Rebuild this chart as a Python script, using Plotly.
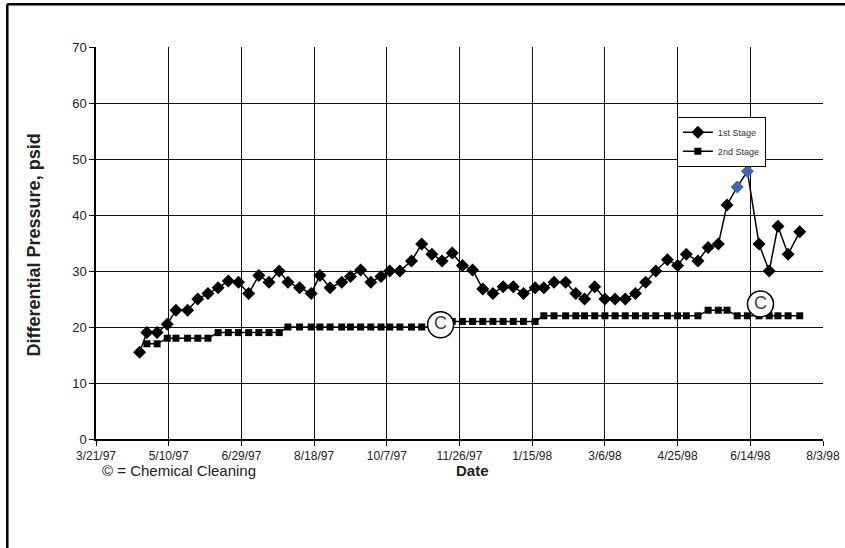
import plotly.graph_objects as go

# ---- data ----
dates = [
    "1997-04-20", "1997-04-25", "1997-05-02", "1997-05-09", "1997-05-15", "1997-05-23",
    "1997-05-30", "1997-06-06", "1997-06-13", "1997-06-20", "1997-06-27", "1997-07-04",
    "1997-07-11", "1997-07-18", "1997-07-25", "1997-07-31", "1997-08-08", "1997-08-16",
    "1997-08-22", "1997-08-29", "1997-09-06", "1997-09-12", "1997-09-19", "1997-09-26",
    "1997-10-03", "1997-10-09", "1997-10-16", "1997-10-24", "1997-10-31", "1997-11-07",
    "1997-11-14", "1997-11-21", "1997-11-28", "1997-12-05", "1997-12-12", "1997-12-19",
    "1997-12-26", "1998-01-02", "1998-01-09", "1998-01-17", "1998-01-23", "1998-01-30",
    "1998-02-07", "1998-02-14", "1998-02-20", "1998-02-27", "1998-03-06", "1998-03-13",
    "1998-03-20", "1998-03-27", "1998-04-03", "1998-04-10", "1998-04-18", "1998-04-25",
    "1998-05-01", "1998-05-09", "1998-05-16", "1998-05-23", "1998-05-29", "1998-06-05",
    "1998-06-12", "1998-06-20", "1998-06-27", "1998-07-03", "1998-07-10", "1998-07-18",
]
stage1 = [
    15.5, 19, 19, 20.5, 23, 23,
    25, 26, 27, 28.2, 28, 26,
    29.2, 28, 30, 28, 27, 26,
    29.2, 27, 28, 29, 30.2, 28,
    29, 30, 30, 31.8, 34.8, 33,
    31.8, 33.2, 31, 30.2, 26.8, 26,
    27.2, 27.2, 26, 27, 27, 28,
    28, 26, 25, 27.2, 25, 25,
    25, 26, 28, 30, 32, 31,
    33, 31.8, 34.2, 34.8, 41.8, 45,
    47.8, 34.8, 30, 38, 33, 37,
]
dates2 = dates[1:]
stage2 = [
    17, 17, 18, 18, 18, 18,
    18, 19, 19, 19, 19, 19,
    19, 19, 20, 20, 20, 20,
    20, 20, 20, 20, 20, 20,
    20, 20, 20, 20, 20, 20,
    21, 21, 21, 21, 21, 21,
    21, 21, 21, 22, 22, 22,
    22, 22, 22, 22, 22, 22,
    22, 22, 22, 22, 22, 22,
    22, 23, 23, 23, 22, 22,
    22, 22, 22, 22, 22,
]
highlight_dates = ["1998-06-05", "1998-06-12"]

cleaning_dates = ["1997-11-13", "1998-06-21"]
cleaning_y = [20.4, 24.1]

tick_dates = ["1997-03-21", "1997-05-10", "1997-06-29", "1997-08-18", "1997-10-07",
              "1997-11-26", "1998-01-15", "1998-03-06", "1998-04-25", "1998-06-14", "1998-08-03"]
tick_text = ["3/21/97", "5/10/97", "6/29/97", "8/18/97", "10/7/97",
             "11/26/97", "1/15/98", "3/6/98", "4/25/98", "6/14/98", "8/3/98"]
y_ticks = [0, 10, 20, 30, 40, 50, 60, 70]

# ---- figure ----
FONT = "Liberation Sans, Arial, sans-serif"
marker_colors1 = ["#3a66b8" if d in highlight_dates else "black" for d in dates]

fig = go.Figure()
fig.add_trace(go.Scatter(
    x=dates, y=stage1, name="1st Stage", mode="lines+markers",
    line=dict(color="black", width=1.5),
    marker=dict(symbol="diamond", size=10, color=marker_colors1),
))
fig.add_trace(go.Scatter(
    x=dates2, y=stage2, name="2nd Stage", mode="lines+markers",
    line=dict(color="black", width=1.5),
    marker=dict(symbol="square", size=7, color="black"),
))
fig.add_trace(go.Scatter(
    x=cleaning_dates, y=cleaning_y, mode="markers+text", showlegend=False,
    marker=dict(symbol="circle", size=26, color="white", line=dict(color="black", width=1.5)),
    text=["C", "C"], textposition="middle center",
    textfont=dict(family=FONT, size=18, color="#444"),
))

fig.update_layout(
    width=845, height=548,
    margin=dict(l=96, r=22, t=47, b=109, autoexpand=False),
    paper_bgcolor="white", plot_bgcolor="white",
    font=dict(family=FONT, color="#222"),
    showlegend=True,
    legend=dict(
        x=0.799, y=0.822, xanchor="left", yanchor="top",
        bgcolor="white", bordercolor="black", borderwidth=1,
        font=dict(family=FONT, size=9, color="#333"),
        entrywidth=88, entrywidthmode="pixels",
    ),
    xaxis=dict(
        range=["1997-03-21", "1998-08-03"], automargin=False,
        tickvals=tick_dates, ticktext=tick_text,
        tickfont=dict(family=FONT, size=12, color="#222"),
        showgrid=True, gridcolor="#111", gridwidth=1.2,
        showline=True, linecolor="black", linewidth=1.5,
        ticks="outside", ticklen=5, tickcolor="black",
        zeroline=False,
    ),
    yaxis=dict(
        range=[0, 70], tickvals=y_ticks, automargin=False,
        tickfont=dict(family=FONT, size=13, color="#222"),
        showgrid=True, gridcolor="#111", gridwidth=1.2,
        showline=True, linecolor="black", linewidth=1.5,
        ticks="outside", ticklen=5, tickcolor="black",
        zeroline=False,
    ),
    annotations=[
        dict(text="<b>Differential Pressure, psid</b>", textangle=-90,
             xref="paper", yref="paper", x=-0.086, y=0.495,
             xanchor="center", yanchor="middle", showarrow=False,
             font=dict(family=FONT, size=18, color="#222")),
        dict(text="<b>Date</b>", xref="paper", yref="paper", x=0.518, y=-0.08,
             xanchor="center", yanchor="middle", showarrow=False,
             font=dict(family=FONT, size=15, color="#222")),
        dict(text="\u00a9 = Chemical Cleaning", xref="paper", yref="paper", x=0.005, y=-0.08,
             xanchor="left", yanchor="middle", showarrow=False,
             font=dict(family=FONT, size=15, color="#222")),
    ],
    shapes=[
        dict(type="line", xref="paper", yref="paper", x0=-0.122, x1=1.2, y0=1.109, y1=1.109,
             line=dict(color="black", width=2.5)),
        dict(type="line", xref="paper", yref="paper", x0=-0.122, x1=-0.122, y0=-0.4, y1=1.109,
             line=dict(color="black", width=2.5)),
    ],
)

fig.write_html(
    "out.html",
    config={"displayModeBar": False},
    post_script="document.body.style.margin='0';document.body.style.overflow='hidden';",
)
